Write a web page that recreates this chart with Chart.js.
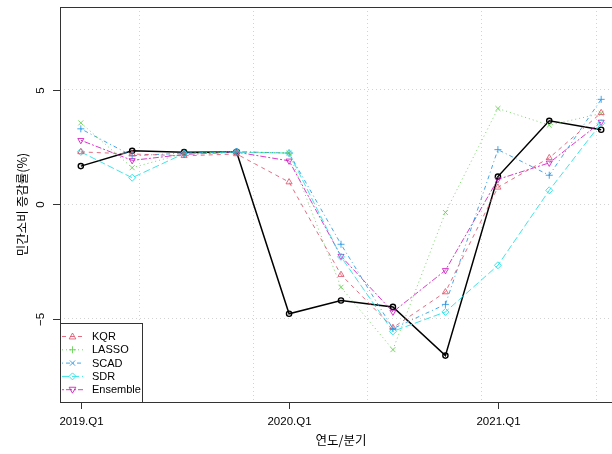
<!DOCTYPE html>
<html>
<head>
<meta charset="utf-8">
<script src="https://cdn.jsdelivr.net/npm/chart.js@4/dist/chart.umd.min.js"></script>
<style>
  html, body { margin: 0; padding: 0; background: #fff; overflow: hidden; width: 612px; height: 454px; }
  #wrap { position: absolute; left: 0; top: 0; width: 630px; height: 454px; }
</style>
</head>
<body>
<div id="wrap"><canvas id="chart" width="630" height="454"></canvas></div>
<script>
// Quarterly private consumption growth (%) : actual vs. model forecasts
const quarters = ['2019.Q1','2019.Q2','2019.Q3','2019.Q4','2020.Q1','2020.Q2',
                  '2020.Q3','2020.Q4','2021.Q1','2021.Q2','2021.Q3'];
const actual   = [1.67, 2.34, 2.28, 2.29, -4.79, -4.21, -4.49, -6.62, 1.21, 3.65, 3.26];
const kqr      = [2.29, 2.20, 2.12, 2.20,  0.97, -3.08, -5.40, -3.84, 0.74, 2.03, 4.00];
const lasso    = [3.56, 1.60, 2.22, 2.30,  2.24, -3.63, -6.36, -0.36, 4.19, 3.46, 3.97];
const scad     = [3.30, 2.12, 2.24, 2.30,  2.24, -1.75, -5.44, -4.38, 2.39, 1.27, 4.59];
const sdr      = [2.29, 1.16, 2.22, 2.28,  2.24, -2.30, -5.56, -4.71, -2.67, 0.61, 3.55];
const ensemble = [2.80, 1.92, 2.18, 2.28,  1.90, -2.27, -4.71, -2.89, 1.09, 1.81, 3.60];

const xTickLabels = ['2019.Q1', '2020.Q1', '2021.Q1'];
const yTicks = [-5, 0, 5];
const yTitle = '민간소비 증감률(%)';
const xTitle = '연도/분기';

// x positions are days since 1970-01-01 at the start of each quarter
function quarterDay(q) {
  const yr = +q.slice(0, 4), k = +q.slice(-1);
  return Date.UTC(yr, (k - 1) * 3, 1) / 86400000;
}
const days = quarters.map(quarterDay);
const pts = vals => vals.map((v, i) => ({ x: days[i], y: v }));

const span = days[days.length - 1] - days[0];
const xMin = days[0] - 0.04 * span, xMax = days[days.length - 1] + 0.04 * span;
const yMin = -8.65, yMax = 8.63;

const models = [
  { label: 'KQR',      data: kqr,      color: 'rgba(223,83,107,0.85)',  dash: [4, 4],       style: 'triangle', rot: 0,   legendStyle: 'triangle', legendRot: 0 },
  { label: 'LASSO',    data: lasso,    color: 'rgba(97,208,79,0.85)',   dash: [1, 3],       style: 'crossRot', rot: 0,   legendStyle: 'cross',    legendRot: 0 },
  { label: 'SCAD',     data: scad,     color: 'rgba(34,151,230,0.85)',  dash: [1, 3, 4, 3], style: 'cross',    rot: 0,   legendStyle: 'crossRot', legendRot: 0 },
  { label: 'SDR',      data: sdr,      color: 'rgba(40,226,229,0.9)',   dash: [7, 3],       style: 'rectRot',  rot: 0,   legendStyle: 'rectRot',  legendRot: 0 },
  { label: 'Ensemble', data: ensemble, color: 'rgba(205,11,188,0.8)',   dash: [2, 2, 6, 2], style: 'triangle', rot: 180, legendStyle: 'triangle', legendRot: 180 }
];

const datasets = [];
models.forEach(m => datasets.push({
  label: m.label,
  data: pts(m.data),
  borderColor: m.color,
  borderWidth: 1,
  borderDash: m.dash,
  pointStyle: m.style,
  pointRotation: m.rot,
  pointRadius: 3.5,
  pointBorderWidth: 1,
  pointBorderColor: m.color,
  pointBackgroundColor: 'rgba(0,0,0,0)',
  tension: 0,
  order: 1
}));
datasets.push({
  label: 'Actual',
  data: pts(actual),
  borderColor: '#000',
  borderWidth: 1.5,
  pointStyle: 'circle',
  pointRadius: 2.6,
  pointBorderWidth: 1.4,
  pointBorderColor: '#000',
  pointBackgroundColor: 'rgba(0,0,0,0)',
  tension: 0,
  order: 2
});

function drawMarker(ctx, style, rot, x, y, r) {
  ctx.save();
  ctx.translate(x, y);
  ctx.rotate(rot * Math.PI / 180);
  ctx.beginPath();
  if (style === 'triangle') {
    ctx.moveTo(0, -r); ctx.lineTo(-r * 0.95, r * 0.7); ctx.lineTo(r * 0.95, r * 0.7); ctx.closePath();
  } else if (style === 'cross') {
    ctx.moveTo(0, -r); ctx.lineTo(0, r); ctx.moveTo(-r, 0); ctx.lineTo(r, 0);
  } else if (style === 'crossRot') {
    const d = r * 0.75;
    ctx.moveTo(-d, -d); ctx.lineTo(d, d); ctx.moveTo(-d, d); ctx.lineTo(d, -d);
  } else if (style === 'rectRot') {
    ctx.moveTo(0, -r); ctx.lineTo(r, 0); ctx.lineTo(0, r); ctx.lineTo(-r, 0); ctx.closePath();
  }
  ctx.stroke();
  ctx.restore();
}

const frame = {
  id: 'frame',
  afterDraw(chart) {
    const ctx = chart.ctx, a = chart.chartArea;
    const xs = chart.scales.x, ys = chart.scales.y;
    ctx.save();
    // plot box
    ctx.strokeStyle = '#333'; ctx.lineWidth = 1; ctx.setLineDash([]);
    ctx.strokeRect(a.left + 0.5, a.top + 0.5, a.right - a.left, a.bottom - a.top);

    // y axis ticks and rotated labels
    ctx.fillStyle = '#000';
    ctx.font = '11.5px "Liberation Sans", Arial, sans-serif';
    yTicks.forEach(v => {
      const py = Math.round(ys.getPixelForValue(v)) + 0.5;
      ctx.beginPath(); ctx.moveTo(a.left - 7, py); ctx.lineTo(a.left, py); ctx.stroke();
      ctx.save();
      ctx.translate(a.left - 19, py);
      ctx.rotate(-Math.PI / 2);
      ctx.textAlign = 'center'; ctx.textBaseline = 'middle';
      ctx.fillText(v < 0 ? '\u2212' + Math.abs(v) : String(v), 0, 0);
      ctx.restore();
    });

    // x axis ticks and labels
    xTickLabels.forEach(lbl => {
      const px = Math.round(xs.getPixelForValue(quarterDay(lbl))) + 0.5;
      ctx.beginPath(); ctx.moveTo(px, a.bottom); ctx.lineTo(px, a.bottom + 7); ctx.stroke();
      ctx.textAlign = 'center'; ctx.textBaseline = 'middle';
      ctx.fillText(lbl, px, a.bottom + 20);
    });

    // axis titles
    ctx.font = '12.5px "Noto Sans CJK KR", sans-serif';
    ctx.textAlign = 'center'; ctx.textBaseline = 'middle';
    ctx.fillText(xTitle, (a.left + a.right) / 2, a.bottom + 38);
    ctx.save();
    ctx.translate(a.left - 38, (a.top + a.bottom) / 2);
    ctx.rotate(-Math.PI / 2);
    ctx.fillText(yTitle, 0, 0);
    ctx.restore();

    // legend
    const lx = a.left, lw = 82, lh = 79, ly = a.bottom - lh;
    ctx.fillStyle = '#fff';
    ctx.fillRect(lx + 1, ly + 1, lw - 1, lh - 1);
    ctx.strokeStyle = '#333'; ctx.lineWidth = 1;
    ctx.strokeRect(lx + 0.5, ly + 0.5, lw, lh);
    ctx.font = '11px "Liberation Sans", Arial, sans-serif';
    ctx.textAlign = 'left'; ctx.textBaseline = 'middle';
    models.forEach((m, i) => {
      const y = ly + 13.5 + i * 13.3;
      ctx.strokeStyle = m.color; ctx.lineWidth = 1;
      ctx.setLineDash(m.dash);
      ctx.beginPath(); ctx.moveTo(lx + 2, y); ctx.lineTo(lx + 23, y); ctx.stroke();
      ctx.setLineDash([]);
      drawMarker(ctx, m.legendStyle, m.legendRot, lx + 12.5, y, 3.5);
      ctx.fillStyle = '#000';
      ctx.fillText(m.label, lx + 32, y + 0.5);
    });
    ctx.restore();
  }
};

new Chart(document.getElementById('chart'), {
  type: 'line',
  data: { datasets },
  options: {
    responsive: false,
    animation: false,
    layout: { padding: { left: 60, top: 7, right: 8, bottom: 52 } },
    plugins: { legend: { display: false }, tooltip: { enabled: false } },
    scales: {
      x: {
        type: 'linear', min: xMin, max: xMax,
        afterBuildTicks(s) {
          const t = [];
          for (let v = Math.ceil(xMin / 200) * 200; v <= xMax; v += 200) t.push({ value: v });
          s.ticks = t;
        },
        afterFit(s) { s.height = 0; },
        ticks: { display: false },
        grid: { color: '#d3d3d3', lineWidth: 1, drawTicks: false },
        border: { display: false, dash: [1, 3] }
      },
      y: {
        type: 'linear', min: yMin, max: yMax,
        afterBuildTicks(s) { s.ticks = yTicks.map(v => ({ value: v })); },
        afterFit(s) { s.width = 0; },
        ticks: { display: false },
        grid: { color: '#d3d3d3', lineWidth: 1, drawTicks: false },
        border: { display: false, dash: [1, 3] }
      }
    }
  },
  plugins: [frame]
});
</script>
</body>
</html>
